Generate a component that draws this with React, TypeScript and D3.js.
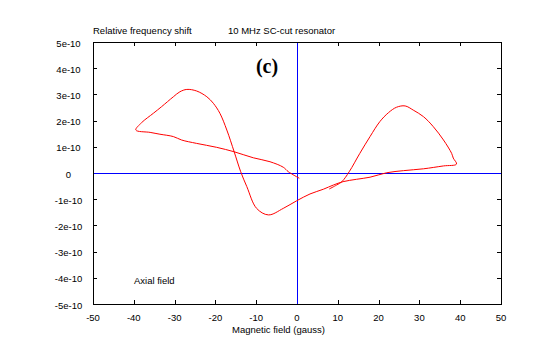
import React from "react";
import * as d3 from "d3";

const xTicks = [-50, -40, -30, -20, -10, 0, 10, 20, 30, 40, 50];
const yTicks = [5e-10, 4e-10, 3e-10, 2e-10, 1e-10, 0, -1e-10, -2e-10, -3e-10, -4e-10, -5e-10];
const yTickLabels = ["5e-10", "4e-10", "3e-10", "2e-10", "1e-10", "0", "-1e-10", "-2e-10", "-3e-10", "-4e-10", "-5e-10"];

// Magnetic field (gauss)
const fieldValues = [
  0.56, -2.13, -3.36, -6.62, -10.7, -15.4, -19.7, -24.6, -28.3, -30.3, -33.6, -36.0, -39.5,
  -38.1, -35.2, -33.2, -30.3, -28.7, -27.0, -24.6, -22.1, -20.5, -18.9, -17.2, -15.4, -13.8, -12.3, -9.9, -7.0, -3.36, -0.07, 3.19,
  6.45, 8.9, 11.3, 14.6, 17.9, 22.0, 26.1, 31.0, 35.9, 39.1,
  38.3, 37.9, 35.9, 33.4, 31.0, 28.5, 26.5, 24.4, 22.4, 20.3, 17.9, 15.4, 12.8, 11.0, 9.7, 7.9,
];
// Relative frequency shift
const shiftValues = [
  -0.20e-10, 0.05e-10, 0.22e-10, 0.43e-10, 0.58e-10, 0.81e-10, 0.98e-10, 1.13e-10, 1.26e-10, 1.39e-10, 1.48e-10, 1.55e-10, 1.64e-10,
  1.92e-10, 2.28e-10, 2.53e-10, 2.91e-10, 3.10e-10, 3.19e-10, 3.13e-10, 2.91e-10, 2.66e-10, 2.28e-10, 1.64e-10, 0.81e-10, 0.05e-10, -0.52e-10, -1.35e-10, -1.60e-10, -1.35e-10, -1.06e-10, -0.80e-10,
  -0.62e-10, -0.46e-10, -0.33e-10, -0.24e-10, -0.16e-10, 0.01e-10, 0.09e-10, 0.16e-10, 0.27e-10, 0.34e-10,
  0.57e-10, 0.75e-10, 1.26e-10, 1.77e-10, 2.15e-10, 2.40e-10, 2.56e-10, 2.51e-10, 2.30e-10, 1.96e-10, 1.39e-10, 0.75e-10, 0.05e-10, -0.33e-10, -0.46e-10, -0.61e-10,
];

const W = 540;
const H = 355;
const L = 93, R = 501, T = 42, B = 304;

export default function App() {
  const x = d3.scaleLinear().domain([-50, 50]).range([L, R]);
  const y = d3.scaleLinear().domain([-5e-10, 5e-10]).range([B, T]);
  const pts: [number, number][] = fieldValues.map((f, i) => [f, shiftValues[i]]);
  const line = d3
    .line<[number, number]>()
    .curve(d3.curveCatmullRom.alpha(0.5))
    .x((d) => x(d[0]))
    .y((d) => y(d[1]));
  const font = "'Liberation Sans', Arial, sans-serif";
  const fs = 9.5;
  const tl = 4;
  const zy = Math.round(y(0)) + 0.5;
  const zx = Math.round(x(0)) + 0.5;
  return (
    <svg
      width={W}
      height={H}
      style={{ position: "absolute", left: 0, top: 0, background: "#fff" }}
      fontFamily={font}
      fontSize={fs}
    >
      <rect x={0} y={0} width={W} height={H} fill="#fff" />
      {/* frame */}
      <g stroke="#000" strokeWidth={1} shapeRendering="crispEdges" fill="none">
        <rect x={L + 0.5} y={T + 0.5} width={R - L} height={B - T} />
        {xTicks.map((t) => {
          const px = Math.round(x(t)) + 0.5;
          return (
            <g key={"xt" + t}>
              <line x1={px} x2={px} y1={B} y2={B - tl} />
              <line x1={px} x2={px} y1={T} y2={T + tl} />
            </g>
          );
        })}
        {yTicks.map((t, i) => {
          const py = Math.round(y(t)) + 0.5;
          return (
            <g key={"yt" + i}>
              <line x1={L} x2={L + tl} y1={py} y2={py} />
              <line x1={R} x2={R - tl} y1={py} y2={py} />
            </g>
          );
        })}
      </g>
      {/* zero lines */}
      <line x1={L + 1} x2={R} y1={zy} y2={zy} stroke="#0000ff" strokeWidth={1} shapeRendering="crispEdges" />
      <line x1={zx} x2={zx} y1={T + 1} y2={B} stroke="#0000ff" strokeWidth={1} shapeRendering="crispEdges" />
      {/* curve */}
      <path d={line(pts) || ""} fill="none" stroke="#ff0000" strokeWidth={1} />
      {/* tick labels */}
      {xTicks.map((t) => (
        <text key={"xl" + t} x={x(t)} y={321} textAnchor="middle" fill="#000">
          {String(t)}
        </text>
      ))}
      {yTicks.map((t, i) => (
        <text key={"yl" + i} x={68.5} y={y(t) + 4.5} textAnchor="middle" fill="#000">
          {yTickLabels[i]}
        </text>
      ))}
      {/* titles */}
      <text x={93} y={34} fill="#000">Relative frequency shift</text>
      <text x={228} y={34} fill="#000">10 MHz SC-cut resonator</text>
      <text x={278.5} y={332.5} textAnchor="middle" fill="#000">Magnetic field (gauss)</text>
      <text x={134} y={284} fill="#000">Axial field</text>
      <text
        x={267}
        y={73}
        textAnchor="middle"
        fontFamily="'Liberation Serif', 'Times New Roman', serif"
        fontWeight="bold"
        fontSize={20}
        fill="#000"
      >
        (c)
      </text>
    </svg>
  );
}
